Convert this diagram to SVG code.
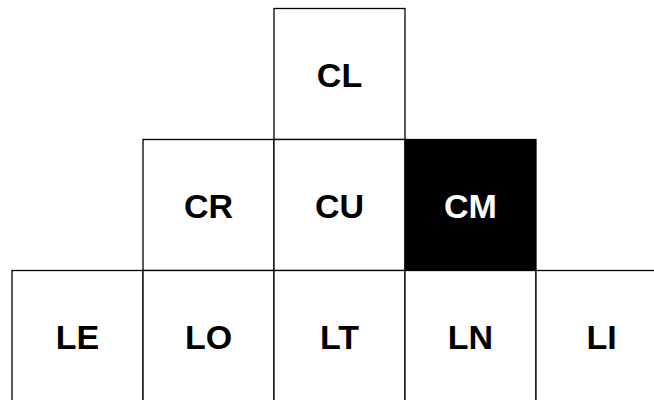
<svg xmlns="http://www.w3.org/2000/svg" width="654" height="400" viewBox="0 0 654 400">
<style>
.c{fill:#fff;stroke:#000;stroke-width:1.3}
.d{fill:#000;stroke:#000;stroke-width:1.3}
.t{font-family:"Liberation Sans",Arial,sans-serif;font-weight:bold;font-size:34px;text-anchor:middle;fill:#000}
.w{fill:#fff}
</style>
<rect width="654" height="400" fill="#fff"/>
<g id="CL"><rect class="c" x="274" y="8.5" width="131" height="131"/><text class="t" x="339.5" y="86.5">CL</text></g>
<g id="CR"><rect class="c" x="143" y="139.5" width="131" height="131"/><text class="t" x="208.5" y="217.5">CR</text></g>
<g id="CU"><rect class="c" x="274" y="139.5" width="131" height="131"/><text class="t" x="339.5" y="217.5">CU</text></g>
<g id="CM"><rect class="d" x="405" y="139.5" width="131" height="131"/><text class="t w" x="470.5" y="217.5">CM</text></g>
<g id="LE"><rect class="c" x="12" y="270.5" width="131" height="131"/><text class="t" x="77.5" y="348.5">LE</text></g>
<g id="LO"><rect class="c" x="143" y="270.5" width="131" height="131"/><text class="t" x="208.5" y="348.5">LO</text></g>
<g id="LT"><rect class="c" x="274" y="270.5" width="131" height="131"/><text class="t" x="339.5" y="348.5">LT</text></g>
<g id="LN"><rect class="c" x="405" y="270.5" width="131" height="131"/><text class="t" x="470.5" y="348.5">LN</text></g>
<g id="LI"><rect class="c" x="536" y="270.5" width="131" height="131"/><text class="t" x="601.5" y="348.5">LI</text></g>
<g id="connectors"/>
</svg>
